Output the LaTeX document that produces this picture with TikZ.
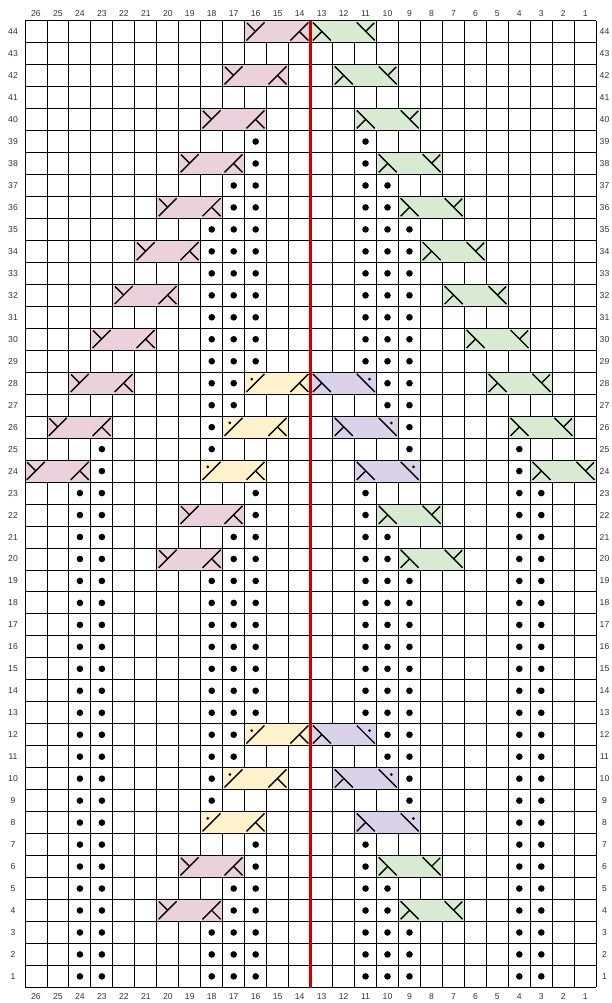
\documentclass[tikz,border=0pt]{standalone}
\usepackage{fontspec}
\setmainfont{Liberation Sans}
\definecolor{pinkc}{HTML}{EAD1DC}
\definecolor{greenc}{HTML}{D9EAD3}
\definecolor{yellowc}{HTML}{FFF2CC}
\definecolor{purplec}{HTML}{D9D2E9}
\definecolor{redc}{HTML}{CC0000}
\tikzset{
  gridline/.style={black, line width=0.9pt},
  cablebox/.style={draw=black, line width=0.9pt},
  sym/.style={black, line width=1.4pt},
  lbl/.style={font=\fontsize{8.6}{10}\selectfont, text=black!80, inner sep=0pt},
  pinkL/.pic={\draw[sym] (0.08,0.9) -- (0.9,0.08); \draw[sym] (0.49,0.49) -- (0.1,0.1);},
  pinkR/.pic={\draw[sym] (0.08,0.9) -- (0.9,0.08); \draw[sym] (0.49,0.49) -- (0.9,0.9);},
  greenL/.pic={\draw[sym] (0.1,0.08) -- (0.92,0.9); \draw[sym] (0.51,0.49) -- (0.1,0.9);},
  greenR/.pic={\draw[sym] (0.1,0.08) -- (0.92,0.9); \draw[sym] (0.51,0.49) -- (0.9,0.1);},
  yellowL/.pic={\draw[sym] (0.08,0.9) -- (0.9,0.08); \fill (0.32,0.31) circle (1.5pt);},
  purpleR/.pic={\draw[sym] (0.1,0.08) -- (0.92,0.9); \fill (0.68,0.31) circle (1.5pt);},
}
\newcommand{\pdot}[2]{\fill ({26-#1+0.5},{44-#2+0.5}) circle (3.3pt);}
\begin{document}
\begin{tikzpicture}[x=21.97pt, y=-21.97pt]
\useasboundingbox (-1.1379,-0.9422) rectangle (26.673,44.711);
% grid
\foreach \i in {0,...,26} {\draw[gridline] (\i,0) -- (\i,44);}
\foreach \j in {0,...,44} {\draw[gridline] (0,\j) -- (26,\j);}
% pink cables
\foreach \c/\r in {16/44,17/42,18/40,19/38,20/36,21/34,22/32,23/30,24/28,25/26,26/24,19/22,20/20,19/6,20/4} {
  \path[fill=pinkc, cablebox] ({26-\c},{44-\r}) rectangle ++(3,1);
  \pic at ({26-\c},{44-\r}) {pinkL};
  \pic at ({28-\c},{44-\r}) {pinkR};
}
% green cables
\foreach \c/\r in {13/44,12/42,11/40,10/38,9/36,8/34,7/32,6/30,5/28,4/26,3/24,10/22,9/20,10/6,9/4} {
  \path[fill=greenc, cablebox] ({26-\c},{44-\r}) rectangle ++(3,1);
  \pic at ({26-\c},{44-\r}) {greenL};
  \pic at ({28-\c},{44-\r}) {greenR};
}
% yellow cables
\foreach \c/\r in {16/28,17/26,18/24,16/12,17/10,18/8} {
  \path[fill=yellowc, cablebox] ({26-\c},{44-\r}) rectangle ++(3,1);
  \pic at ({26-\c},{44-\r}) {yellowL};
  \pic at ({28-\c},{44-\r}) {pinkR};
}
% purple cables
\foreach \c/\r in {13/28,12/26,11/24,13/12,12/10,11/8} {
  \path[fill=purplec, cablebox] ({26-\c},{44-\r}) rectangle ++(3,1);
  \pic at ({26-\c},{44-\r}) {greenL};
  \pic at ({28-\c},{44-\r}) {purpleR};
}
% purl dots: outer columns
\foreach \r in {1,...,23} {\foreach \c in {24,23,4,3} {\pdot{\c}{\r}}}
\foreach \r in {24,25} {\foreach \c in {23,4} {\pdot{\c}{\r}}}
% purl dots: centre
\foreach \r in {1,2,3,13,14,15,16,17,18,19,29,30,31,32,33,34,35} {\foreach \c in {18,17,16,11,10,9} {\pdot{\c}{\r}}}
\foreach \r in {4,5,20,21,36,37} {\foreach \c in {17,16,11,10} {\pdot{\c}{\r}}}
\foreach \r in {6,7,22,23,38,39} {\foreach \c in {16,11} {\pdot{\c}{\r}}}
\foreach \r in {9,10,25,26} {\foreach \c in {18,9} {\pdot{\c}{\r}}}
\foreach \r in {11,12,27,28} {\foreach \c in {18,17,10,9} {\pdot{\c}{\r}}}
% red centre line
\draw[redc, line width=3pt] (13,0) -- (13,44.05);
% labels
\foreach \i in {1,...,26} {
  \node[lbl] (top\i) at ({26-\i+0.5},-0.305) {\i};
  \node[lbl] (bot\i) at ({26-\i+0.5},44.406) {\i};
}
\foreach \i in {1,...,44} {
  \node[lbl] (left\i) at (-0.546,{44-\i+0.5}) {\i};
  \node[lbl] (right\i) at (26.377,{44-\i+0.5}) {\i};
}
\end{tikzpicture}
\end{document}
